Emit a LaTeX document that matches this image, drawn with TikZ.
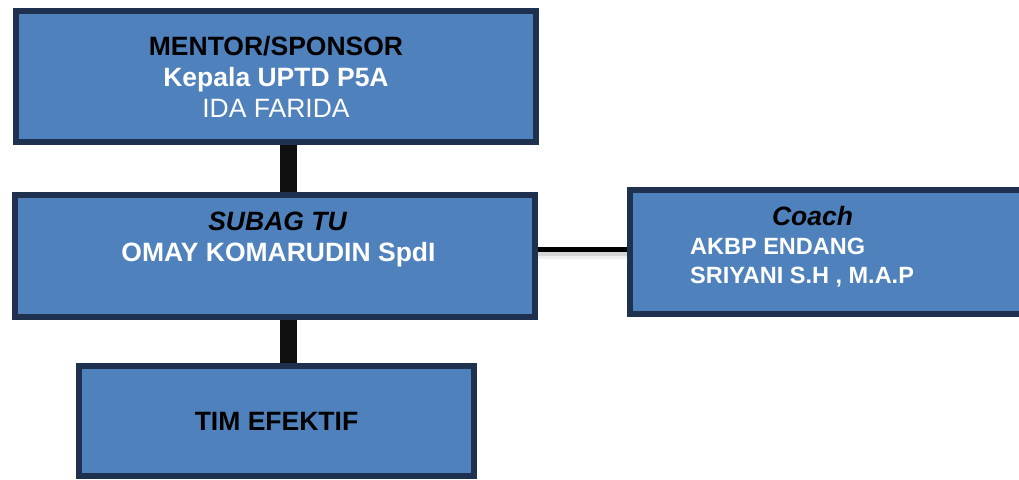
\documentclass[tikz,border=0pt]{standalone}
\usepackage{fontspec}
\setmainfont{Liberation Sans}
\usetikzlibrary{backgrounds}
\definecolor{boxfill}{RGB}{79,129,189}
\definecolor{boxline}{RGB}{30,50,80}
\definecolor{linkcol}{RGB}{15,15,15}

\begin{document}
\begin{tikzpicture}[x=1pt, y=-1pt,
	box/.style={draw=boxline, fill=boxfill, line width=6pt, inner sep=0pt, align=center, font=\fontsize{26.5}{31}\selectfont\bfseries},
	txt/.style={inner sep=0pt, font=\fontsize{26.5}{31}\selectfont\bfseries},
	small/.style={txt, font=\fontsize{23.5}{29}\selectfont\bfseries},
	link/.style={draw=linkcol, line width=17pt},
	hlink/.style={draw=black, line width=5pt}]
	\useasboundingbox (0,0) rectangle (1019,479);

	\node[box, minimum width=520pt, minimum height=131pt] (M) at (276,76.5) {MENTOR/SPONSOR\\ \textcolor{white}{Kepala UPTD P5A}\\ \textcolor{white}{\mdseries IDA FARIDA}};
	\node[box, minimum width=520pt, minimum height=122pt] (S) at (275,256) {};
	\node[box, minimum width=394pt, minimum height=124pt] (C) at (827,252) {};
	\node[box, minimum width=395pt, minimum height=110pt] (T) at (276.5,421) {TIM EFEKTIF};

	\node[txt, anchor=base] (S1) at (277.5,230) {\itshape SUBAG TU};
	\node[txt, anchor=base, text=white] (S2) at (278.5,261.7) {OMAY KOMARUDIN SpdI};

	\node[txt, anchor=base] (C1) at (812.5,225) {\itshape Coach};
	\node[small, anchor=base west, text=white] (C2) at (690,254) {AKBP ENDANG};
	\node[small, anchor=base west, text=white] (C3) at (690,283.3) {SRIYANI S.H , M.A.P};

	\begin{scope}[on background layer]
		\draw[link] ([xshift=12.5pt]M.south) -- ([xshift=12.5pt]M.south |- S.north);
		\draw[link] ([xshift=13.5pt]S.south) -- ([xshift=13.5pt]S.south |- T.north);
		% shadow under the coach line
		\draw[black!6, line width=7pt] ([yshift=1pt]S.east) -- ([yshift=1pt]S.east -| C.west);
		\draw[black!16, line width=4pt] ([yshift=2.5pt]S.east) -- ([yshift=2.5pt]S.east -| C.west);
		\draw[hlink] ([yshift=6.5pt]S.east) -- ([yshift=6.5pt]S.east -| C.west);
	\end{scope}
\end{tikzpicture}
\end{document}
